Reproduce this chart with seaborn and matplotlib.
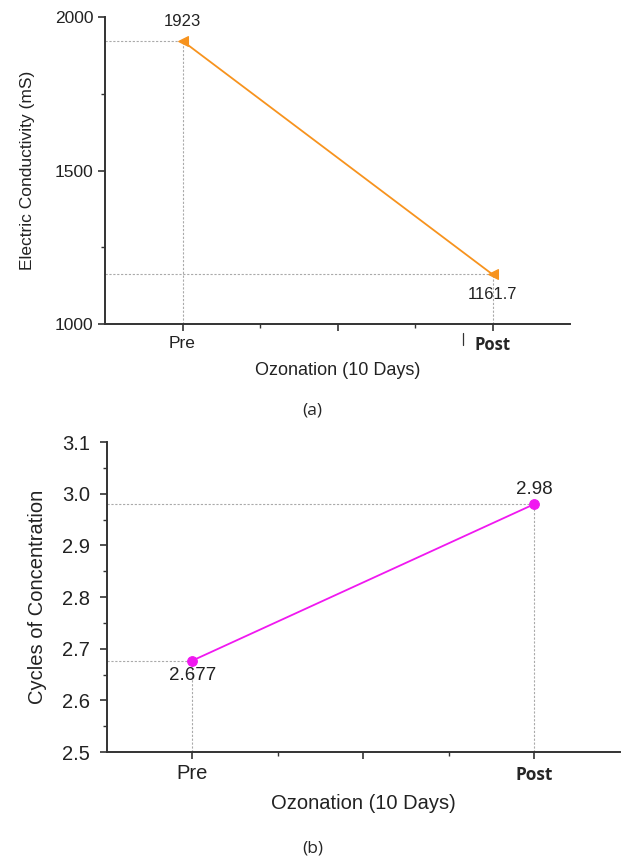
import matplotlib
matplotlib.use("Agg")
import matplotlib.pyplot as plt
import seaborn as sns
import pandas as pd
from matplotlib.ticker import MultipleLocator, FixedLocator

sns.set_style("ticks")
plt.rcParams['font.family'] = ['Liberation Sans', 'DejaVu Sans']

stages = ["Pre", "Post"]
conductivity = [1923, 1161.7]
conductivity_labels = ["1923", "1161.7"]
cycles = [2.677, 2.98]
cycles_labels = ["2.677", "2.98"]
xlabel = "Ozonation (10 Days)"

fig = plt.figure(figsize=(6.25, 8.64), dpi=100)
ax1 = fig.add_axes([0.168, 0.625, 0.744, 0.355])
ax2 = fig.add_axes([0.171, 0.1296, 0.821, 0.3588])

def style_axes(ax, fs_tick, pad):
    for s in ["top", "right"]:
        ax.spines[s].set_visible(False)
    for s in ["left", "bottom"]:
        ax.spines[s].set_linewidth(1.4)
        ax.spines[s].set_color("#333333")
    ax.set_xlim(-0.25, 1.25)
    ax.xaxis.set_major_locator(FixedLocator([0, 0.5, 1]))
    ax.xaxis.set_minor_locator(FixedLocator([0.25, 0.75]))
    ax.set_xticklabels(["Pre", "", ""])
    ax.tick_params(axis="both", which="major", direction="out", length=5, width=1.2,
                   colors="#333333", labelsize=fs_tick, labelcolor="#222222")
    ax.tick_params(axis="y", which="major", pad=pad)
    ax.tick_params(axis="both", which="minor", direction="out", length=3, width=1.0, colors="#333333")
    ax.grid(False)

# (a)
df1 = pd.DataFrame({"stage": stages, "value": conductivity})
sns.lineplot(data=df1, x="stage", y="value", ax=ax1, color="#F7931E", lw=1.3,
             marker="<", markersize=7, markeredgecolor="#F7931E", sort=False)
ax1.set_ylim(1000, 2000)
ax1.yaxis.set_major_locator(MultipleLocator(500))
ax1.yaxis.set_minor_locator(MultipleLocator(250))
style_axes(ax1, 12.5, 3.5)
ax1.set_xlabel(xlabel, fontsize=13, labelpad=8, color="#222222")
ax1.set_ylabel("Electric Conductivity (mS)", fontsize=12.5, color="#222222", labelpad=14)
for i, v in enumerate(conductivity):
    ax1.plot([-0.25, i], [v, v], ls=(0, (2, 1.5)), color="#aaaaaa", lw=0.8, zorder=1)
    ax1.plot([i, i], [1000, v], ls=(0, (2, 1.5)), color="#aaaaaa", lw=0.8, zorder=1)
ax1.text(0, 1923 + 40, conductivity_labels[0], ha="center", va="bottom", fontsize=12, color="#222222")
ax1.text(1, 1161.7 - 40, conductivity_labels[1], ha="center", va="top", fontsize=12, color="#222222")
ax1.text(1, 1000 - 40, stages[1], ha="center", va="top", fontsize=12, fontweight="bold",
         family=["Open Sans", "DejaVu Sans"], clip_on=False)
ax1.plot([0.905, 0.905], [1000 - 30, 1000 - 68], color="#333333", lw=0.9, clip_on=False)
fig.text(0.5, 0.525, "(a)", ha="center", va="center", fontsize=12.5, family=["Open Sans", "DejaVu Sans"])

# (b)
df2 = pd.DataFrame({"stage": stages, "value": cycles})
sns.lineplot(data=df2, x="stage", y="value", ax=ax2, color="#F018F0", lw=1.3,
             marker="o", markersize=7, markeredgecolor="#F018F0", sort=False)
ax2.set_ylim(2.5, 3.1)
ax2.yaxis.set_major_locator(MultipleLocator(0.1))
ax2.yaxis.set_minor_locator(MultipleLocator(0.05))
style_axes(ax2, 14.5, 7)
ax2.yaxis.set_major_formatter(matplotlib.ticker.FormatStrFormatter("%.1f"))
ax2.set_xlabel(xlabel, fontsize=14.5, labelpad=8, color="#222222")
ax2.set_ylabel("Cycles of Concentration", fontsize=14.5, color="#222222", labelpad=11)
for i, v in enumerate(cycles):
    ax2.plot([-0.25, i], [v, v], ls=(0, (2, 1.5)), color="#aaaaaa", lw=0.8, zorder=1)
    ax2.plot([i, i], [2.5, v], ls=(0, (2, 1.5)), color="#aaaaaa", lw=0.8, zorder=1)
ax2.text(0, 2.677 - 0.012, cycles_labels[0], ha="center", va="top", fontsize=13.5, color="#222222")
ax2.text(1, 2.98 + 0.012, cycles_labels[1], ha="center", va="bottom", fontsize=13.5, color="#222222")
ax2.text(1, 2.5 - 0.027, stages[1], ha="center", va="top", fontsize=12.5, fontweight="bold",
         family=["Open Sans", "DejaVu Sans"], clip_on=False)
fig.text(0.5, 0.018, "(b)", ha="center", va="center", fontsize=12.5, family=["Open Sans", "DejaVu Sans"])

fig.savefig("out.png", dpi=100, facecolor="white")
